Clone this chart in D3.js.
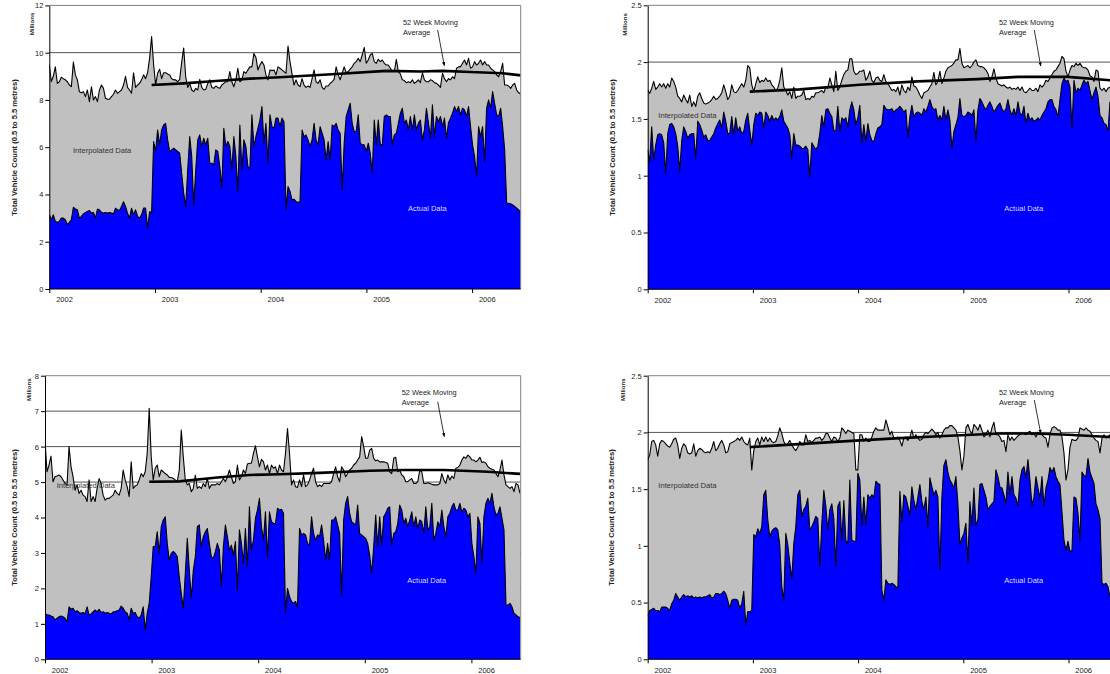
<!DOCTYPE html>
<html>
<head>
<meta charset="utf-8">
<script src="https://cdn.jsdelivr.net/npm/d3@7"></script>
<style>
  body { margin: 0; background: #fff; }
  svg { display: block; font-family: "Liberation Sans", Arial, sans-serif; }
</style>
</head>
<body>
<svg id="chart" width="1110" height="674"></svg>
<script>
// ---- Data (weekly vehicle counts, millions) ----
const years = ["2002", "2003", "2004", "2005", "2006"];

// Site A
const aTotal = [
  9.5, 8.77, 9.0, 9.4, 8.7, 8.77, 8.96, 8.9, 8.85, 8.77,
  8.63, 8.56, 9.6, 9.06, 8.85, 8.35, 8.3, 8.35, 8.14, 8.42,
  7.93, 8.56, 8.0, 8.14, 7.93, 8.42, 8.63, 8.49, 8.07, 8.03,
  8.03, 8.14, 8.24, 8.42, 8.28, 8.35, 8.42, 8.63, 9.0, 8.53,
  8.42, 8.28, 9.15, 8.53, 8.63, 8.7, 8.85, 9.06, 8.9, 9.15,
  9.76, 10.68, 9.5, 8.63, 9.13, 9.3, 8.9, 9.15, 9.15, 9.1,
  9.06, 8.9, 8.85, 8.85, 8.77, 8.87, 9.6, 10.2, 8.98, 8.53,
  8.7, 8.42, 8.35, 8.49, 8.42, 8.87, 8.53, 8.42, 8.45, 8.7,
  8.85, 8.53, 8.49, 8.59, 8.53, 8.49, 8.63, 8.7, 8.77, 8.77,
  9.2, 8.77, 8.56, 8.85, 9.34, 8.77, 8.85, 9.2, 9.13, 9.27,
  9.4, 9.4, 9.97, 9.8, 9.27, 9.48, 9.62, 9.48, 9.06, 8.85,
  9.27, 9.24, 9.27, 9.06, 9.4,
  9.34, 9.27, 9.2, 9.13, 10.28, 9.62, 9.1, 8.63, 8.85, 8.63,
  8.56, 8.9, 8.63, 8.53, 8.59, 8.53, 8.9, 9.27, 8.77, 8.7,
  8.85, 8.53, 8.45, 8.59, 8.59, 8.7, 8.77, 8.87, 9.4, 9.06,
  8.85, 9.13, 9.4, 9.15, 9.2, 9.3, 9.4, 9.55, 9.62, 9.76,
  9.62, 9.9, 10.22, 9.55, 9.69, 9.9, 9.97, 9.62, 9.55, 9.72,
  9.62, 9.69, 9.55, 9.48, 9.48, 9.34, 9.2, 9.2, 9.72, 9.2,
  9.1, 8.85, 8.82, 8.73, 8.77, 8.73, 8.85, 8.7, 8.77, 8.85,
  8.73, 9.15, 8.85, 8.77, 8.77, 8.85, 8.82, 8.73, 8.7, 8.63,
  8.53, 9.13, 8.9, 8.77, 8.9, 8.85, 8.98, 8.9, 9.34, 9.4,
  9.4, 9.55, 9.69, 9.48, 9.76, 9.34, 9.4, 9.62, 9.48, 9.55,
  9.69, 9.48, 9.62, 9.48, 9.48, 9.34, 9.27, 9.2, 9.06, 8.98,
  9.2, 9.55, 8.63, 8.63, 8.59, 8.49, 8.63, 8.7, 8.42, 8.3,
  8.25
];
const aActual = [
  3.14, 2.93, 3.14, 2.86, 2.82, 2.86, 3.0, 3.0, 2.93, 2.72,
  2.82, 2.93, 3.46, 3.38, 3.35, 3.0, 3.07, 3.18, 3.24, 3.28,
  3.32, 3.21, 3.24, 3.0, 3.38, 3.35, 3.24, 3.21, 3.24, 3.21,
  3.24, 3.21, 3.18, 3.42, 3.35, 3.32, 3.49, 3.69, 3.49, 3.21,
  3.0, 3.42, 3.14, 3.35, 3.07, 3.0, 3.14, 3.42, 3.42, 2.58,
  3.28, 3.21, 6.24, 5.82, 6.73, 6.1, 6.73, 6.94, 7.01, 6.31,
  5.82, 5.89, 5.96, 5.89, 5.82, 5.75, 4.9, 4.06, 3.49, 5.04,
  6.45, 5.61, 3.56, 5.04, 6.31, 6.52, 6.03, 6.38, 6.1, 6.38,
  5.32, 5.32, 5.25, 5.89, 5.82, 5.18, 4.27, 6.8, 6.03, 6.24,
  6.03, 5.04, 6.45, 5.61, 4.13, 6.94, 5.04, 6.31, 6.03, 5.18,
  5.11, 7.37, 6.03, 6.45, 6.8, 7.15, 7.72, 6.17, 7.01, 5.32,
  7.37, 6.87, 6.8, 7.23, 7.23,
  6.87, 7.23, 7.08, 3.35, 4.34, 4.13, 3.77, 3.8, 3.7, 3.66,
  3.7, 6.73, 6.45, 6.52, 6.31, 6.03, 6.31, 7.01, 6.31, 6.1,
  6.87, 6.59, 6.31, 5.46, 6.24, 5.46, 6.94, 6.87, 7.01, 6.73,
  6.59, 4.2, 6.17, 7.3, 7.58, 7.86, 7.01, 6.66, 6.66, 7.37,
  6.17, 6.1, 6.1, 5.82, 6.17, 5.75, 4.9, 7.15, 6.1, 7.15,
  6.1, 6.1, 7.3, 7.37, 7.3, 7.3, 6.1, 6.52, 6.59, 7.01,
  7.44, 7.65, 7.01, 7.15, 6.73, 7.3, 6.73, 7.37, 6.73, 7.01,
  7.15, 6.31, 6.73, 7.65, 7.04, 6.38, 7.79, 6.45, 7.3, 7.08,
  7.3, 6.87, 7.23, 6.38, 7.04, 7.23, 7.44, 7.72, 7.51, 7.72,
  7.37, 7.65, 7.58, 7.3, 7.72, 6.87, 6.1, 5.61, 4.76, 6.87,
  6.45, 6.87, 5.39, 7.65, 8.0, 7.65, 8.35, 7.86, 7.37, 7.3,
  7.65, 6.87, 5.89, 3.63, 3.63, 3.61, 3.56, 3.49, 3.42, 3.35,
  3.21
];
const aMaWeek  = [51, 67, 83, 100, 115, 143, 168, 185, 196, 210, 226, 235];
const aMaValue = [8.63, 8.70, 8.80, 8.90, 8.96, 9.10, 9.23, 9.20, 9.23, 9.18, 9.13, 9.04];

// Site B
const bTotal = [
  1.755, 1.725, 1.77, 1.83, 1.76, 1.78, 1.81, 1.78, 1.81, 1.77,
  1.81, 1.78, 1.86, 1.83, 1.78, 1.7, 1.68, 1.65, 1.71, 1.67,
  1.64, 1.71, 1.61, 1.65, 1.61, 1.7, 1.73, 1.68, 1.64, 1.63,
  1.64, 1.65, 1.67, 1.7, 1.67, 1.68, 1.7, 1.73, 1.8, 1.74,
  1.67, 1.7, 1.8, 1.74, 1.73, 1.75, 1.78, 1.81, 1.78, 1.84,
  1.97, 1.95, 1.8, 1.74, 1.81, 1.87, 1.82, 1.84, 1.83, 1.86,
  1.83, 1.84, 1.8, 1.78, 1.75, 1.77, 1.84, 1.95, 1.78, 1.75,
  1.71, 1.74, 1.68, 1.78, 1.68, 1.7, 1.7, 1.71, 1.75, 1.67,
  1.68, 1.67, 1.7, 1.69, 1.73, 1.73, 1.74, 1.75, 1.73, 1.78,
  1.77, 1.86, 1.8, 1.74, 1.92, 1.75, 1.78, 1.84, 1.89, 1.92,
  1.93, 2.03, 2.03, 1.92, 1.89, 1.9, 1.92,
  1.92, 1.93, 1.84, 1.87, 1.92, 1.84, 1.82, 1.86, 1.87, 1.84,
  1.83, 1.89, 1.83, 1.81, 1.78, 1.75, 1.76, 1.74, 1.78, 1.71,
  1.8, 1.75, 1.73, 1.78, 1.75, 1.87, 1.79, 1.78, 1.75, 1.71,
  1.68, 1.73, 1.74, 1.75, 1.78, 1.81, 1.91, 1.8, 1.83, 1.92,
  1.81, 1.86, 1.92, 1.95, 1.96, 1.97, 1.99, 2.02, 2.02, 2.12,
  1.99, 1.95, 1.96, 1.97, 1.95, 1.97, 2.0, 2.02, 1.97, 1.96,
  1.96, 1.95, 1.93, 1.9, 1.83, 1.87, 1.94, 1.86, 1.81, 1.8,
  1.79, 1.8, 1.78, 1.77, 1.78, 1.76, 1.77, 1.76, 1.78, 1.75,
  1.78, 1.74, 1.73, 1.75, 1.77, 1.75, 1.75, 1.77, 1.74, 1.8,
  1.78, 1.8, 1.84, 1.83, 1.86, 1.89, 1.92, 1.93, 1.96, 1.99,
  2.05, 2.03, 1.92, 1.87, 1.93, 1.97, 1.96, 1.99, 1.97, 1.99,
  1.96, 1.95, 1.95, 1.93, 1.88, 1.87, 1.83, 1.93, 1.92, 1.77,
  1.75, 1.77, 1.74, 1.77, 1.78
];
const bActual = [
  1.23, 1.12, 1.43, 1.14, 1.27, 1.36, 1.37, 1.36, 1.29, 1.02,
  1.37, 1.45, 1.46, 1.43, 1.37, 1.26, 1.04, 1.31, 1.43, 1.39,
  1.33, 1.36, 1.37, 1.37, 1.15, 1.48, 1.45, 1.4, 1.34, 1.36,
  1.31, 1.31, 1.34, 1.37, 1.42, 1.46, 1.49, 1.42, 1.56, 1.48,
  1.37, 1.37, 1.52, 1.36, 1.51, 1.39, 1.43, 1.37, 1.39, 1.49,
  1.55, 1.4, 1.27, 1.45, 1.55, 1.53, 1.56, 1.55, 1.42, 1.56,
  1.53, 1.48, 1.53, 1.49, 1.51, 1.49, 1.52, 1.58, 1.48, 1.45,
  1.42, 1.36, 1.15, 1.37, 1.27, 1.27, 1.26, 1.24, 1.24, 1.26,
  1.23, 0.99, 1.29, 1.26, 1.23, 1.26, 1.37, 1.53, 1.43, 1.58,
  1.59, 1.55, 1.52, 1.4, 1.39, 1.61, 1.39, 1.51, 1.49, 1.51,
  1.43, 1.58, 1.65, 1.58, 1.45, 1.51, 1.62,
  1.29, 1.45, 1.3, 1.46, 1.36, 1.31, 1.3, 1.37, 1.42, 1.43,
  1.45, 1.62, 1.59, 1.58, 1.58, 1.59, 1.56, 1.58, 1.59, 1.61,
  1.59, 1.56, 1.58, 1.34, 1.52, 1.62, 1.52, 1.55, 1.56, 1.55,
  1.53, 1.59, 1.56, 1.61, 1.67, 1.61, 1.58, 1.59, 1.49, 1.53,
  1.49, 1.61, 1.49, 1.58, 1.49, 1.24, 1.39, 1.45, 1.51, 1.68,
  1.53, 1.52, 1.53, 1.56, 1.55, 1.53, 1.58, 1.31, 1.58, 1.68,
  1.65, 1.61, 1.58, 1.62, 1.65, 1.61, 1.56, 1.59, 1.62, 1.64,
  1.59, 1.56, 1.59, 1.67, 1.58, 1.53, 1.59, 1.53, 1.65, 1.55,
  1.53, 1.61, 1.46, 1.55, 1.49, 1.51, 1.48, 1.49, 1.51, 1.49,
  1.53, 1.56, 1.59, 1.65, 1.67, 1.67, 1.61, 1.58, 1.52, 1.67,
  1.81, 1.86, 1.83, 1.84, 1.78, 1.42, 1.84, 1.73, 1.77, 1.75,
  1.8, 1.84, 1.81, 1.83, 1.75, 1.67, 1.73, 1.78, 1.7, 1.53,
  1.51, 1.46, 1.45, 1.39, 1.65
];
const bMaWeek  = [51, 76, 106, 135, 165, 185, 210, 231];
const bMaValue = [1.74, 1.76, 1.80, 1.83, 1.85, 1.87, 1.87, 1.84];

// Site C
const cTotal = [
  6.18, 5.29, 5.48, 5.73, 5.01, 5.15, 5.17, 5.2, 5.15, 5.06,
  4.96, 4.92, 6.0, 5.43, 5.15, 4.77, 4.92, 4.68, 4.77, 4.63,
  4.59, 4.45, 5.06, 4.45, 4.59, 4.45, 4.82, 5.1, 4.96, 4.63,
  4.49, 4.54, 4.54, 4.59, 4.63, 4.77, 4.68, 4.63, 4.82, 5.34,
  5.06, 4.87, 4.59, 5.57, 4.82, 4.89, 4.92, 5.06, 5.24, 5.15,
  5.29, 5.81, 7.08, 5.71, 5.06, 5.39, 5.48, 5.15, 5.34, 5.29,
  5.24, 5.2, 5.13, 5.13, 5.1, 5.06, 5.01, 5.34, 6.47, 5.71,
  5.06, 4.92, 4.96, 4.73, 4.82, 5.2, 4.82, 4.87, 4.82, 4.96,
  4.87, 5.1, 4.82, 4.92, 4.92, 4.92, 4.96, 4.92, 5.01, 5.1,
  5.01, 5.15, 5.34, 5.15, 4.96, 5.01, 5.48, 5.06, 5.15, 5.34,
  5.24, 5.51, 5.53, 5.53, 5.81, 6.02, 5.71, 5.43, 5.64, 5.57,
  5.34, 5.48, 5.24, 5.48, 5.39, 5.43, 5.24, 5.48,
  5.34, 5.29, 5.81, 6.51, 5.81, 4.92, 5.06, 4.87, 4.85, 5.06,
  4.87, 5.2, 4.87, 4.92, 5.06, 5.24, 5.39, 5.01, 4.87, 4.92,
  4.87, 4.96, 4.96, 4.96, 4.96, 5.01, 5.24, 5.43, 5.15, 5.01,
  5.43, 5.34, 5.15, 5.24, 5.34, 5.39, 5.48, 5.53, 5.62, 5.71,
  6.28, 6.0, 5.67, 5.67, 5.9, 5.95, 5.67, 5.6, 5.62, 5.57,
  5.57, 5.57, 5.55, 5.53, 5.29, 5.24, 5.67, 5.7, 5.29, 5.34,
  5.2, 5.15, 5.01, 5.01, 5.06, 5.1, 4.96, 4.96, 5.01, 5.34,
  5.29, 4.96, 4.96, 4.98, 4.96, 4.94, 4.92, 4.92, 4.92, 4.96,
  5.24, 5.06, 4.96, 5.2, 5.06, 5.17, 5.1, 5.39, 5.41, 5.48,
  5.62, 5.71, 5.67, 5.76, 5.71, 5.62, 5.62, 5.57, 5.62, 5.7,
  5.55, 5.57, 5.53, 5.43, 5.39, 5.36, 5.34, 5.24, 5.15, 5.34,
  5.62, 5.2, 4.92, 4.87, 4.82, 4.87, 4.73, 4.96, 4.92, 4.68
];
const cActual = [
  1.3, 1.25, 1.25, 1.22, 1.2, 1.11, 1.16, 1.2, 1.22, 1.2,
  1.16, 1.06, 1.48, 1.41, 1.44, 1.34, 1.37, 1.32, 1.3, 1.32,
  1.28, 1.48, 1.25, 1.28, 1.34, 1.39, 1.34, 1.41, 1.32, 1.34,
  1.3, 1.32, 1.3, 1.28, 1.34, 1.34, 1.37, 1.39, 1.5, 1.44,
  1.34, 1.3, 1.11, 1.44, 1.3, 1.32, 1.2, 1.16, 1.25, 1.48,
  0.83, 1.3, 1.58, 2.33, 3.18, 3.18, 3.6, 2.99, 3.74, 3.93,
  4.02, 3.27, 2.8, 2.99, 3.04, 2.99, 2.89, 2.33, 1.86, 1.44,
  2.42, 3.41, 2.52, 1.72, 2.52, 2.89, 3.74, 3.79, 3.18, 3.46,
  3.6, 3.69, 3.27, 2.89, 2.85, 3.04, 3.27, 3.08, 2.05, 3.18,
  3.79, 3.46, 3.08, 3.22, 2.94, 3.32, 1.95, 3.65, 3.27, 2.71,
  3.69, 2.61, 4.3, 3.08, 3.36, 3.98, 4.21, 4.54, 3.74, 3.36,
  4.16, 2.85, 4.16, 3.88, 3.83, 3.83, 4.26, 4.21,
  4.23, 4.12, 1.3, 2.0, 1.77, 1.63, 1.58, 1.63, 1.48, 3.69,
  3.51, 3.55, 3.51, 3.27, 3.22, 4.02, 3.55, 3.36, 3.51, 3.46,
  3.79, 3.36, 2.8, 3.27, 2.8, 3.93, 3.93, 4.02, 3.79, 3.55,
  1.81, 3.93, 4.4, 4.59, 4.12, 3.88, 3.83, 3.79, 4.35, 3.55,
  3.51, 3.46, 3.41, 3.27, 2.94, 2.42, 3.18, 4.07, 3.18, 4.02,
  3.22, 4.02, 4.12, 4.26, 4.3, 3.22, 3.55, 3.6, 3.83, 4.35,
  4.21, 3.83, 3.98, 3.74, 3.93, 4.16, 3.74, 4.02, 3.69, 3.93,
  3.88, 3.55, 4.3, 3.65, 3.74, 4.4, 3.36, 3.55, 3.88, 3.74,
  4.21, 3.74, 3.46, 4.02, 4.12, 4.3, 4.4, 4.21, 4.21, 4.4,
  4.16, 4.26, 4.21, 4.02, 4.12, 3.27, 2.89, 2.42, 4.02, 3.83,
  2.71, 4.02, 4.4, 4.54, 4.4, 4.68, 4.3, 4.07, 4.12, 4.3,
  3.98, 3.65, 1.53, 1.53, 1.58, 1.48, 1.3, 1.25, 1.2, 1.18
];
const cMaWeek  = [52, 67, 86, 102, 117, 137, 162, 179, 199, 221, 237];
const cMaValue = [5.01, 5.02, 5.13, 5.20, 5.22, 5.26, 5.32, 5.34, 5.34, 5.29, 5.23];

// Site D
const dTotal = [
  1.76, 1.8, 1.92, 1.93, 1.89, 1.79, 1.9, 1.93, 1.92, 1.9,
  1.88, 1.87, 1.9, 1.94, 1.95, 1.89, 1.77, 1.86, 1.9, 1.88,
  1.82, 1.81, 1.82, 1.9, 1.79, 1.84, 1.86, 1.85, 1.83, 1.82,
  1.83, 1.82, 1.86, 1.92, 1.84, 1.86, 1.9, 1.93, 1.89, 1.82,
  1.83, 1.9, 1.91, 1.92, 1.93, 1.95, 1.93, 1.96, 1.92, 1.9,
  1.89, 1.95, 1.67, 1.84, 1.92, 1.95, 1.89, 1.96, 1.92, 1.96,
  1.92, 1.95, 1.92, 1.91, 1.92, 1.97, 2.04, 1.99, 1.92, 1.89,
  1.9, 1.93, 1.89, 1.86, 1.84, 1.87, 1.92, 1.89, 1.89, 1.98,
  1.92, 1.93, 1.91, 1.93, 1.95, 1.95, 1.96, 1.93, 1.95, 1.99,
  1.99, 1.95, 1.92, 1.96, 1.95, 1.92, 1.95, 2.04, 2.02, 1.99,
  2.02, 2.01, 2.0, 1.99, 1.67, 1.67, 1.98,
  1.98, 1.92, 1.95, 1.92, 1.92, 1.96, 2.01, 2.04, 2.02, 2.02,
  2.02, 2.02, 2.11, 2.05, 1.98, 2.01, 1.95, 1.95, 1.96, 1.93,
  1.88, 1.95, 1.96, 1.93, 1.96, 2.02, 1.95, 1.98, 1.95, 1.93,
  1.94, 1.98, 2.0, 1.99, 2.01, 2.03, 2.01, 1.98, 2.0, 1.95,
  1.98, 2.02, 2.04, 2.04, 2.06, 2.06, 2.04, 2.02, 1.96, 1.84,
  1.67, 1.79, 2.04, 2.07, 2.02, 1.98, 2.07, 2.05, 2.02, 2.07,
  2.02, 1.96, 1.98, 2.02, 1.96, 2.04, 2.09, 1.98, 1.98, 1.96,
  1.92, 1.93, 1.83, 1.98, 1.93, 1.96, 1.93, 1.95, 1.97, 1.98,
  1.99, 1.99, 1.98, 2.0, 2.01, 1.98, 1.99, 1.96, 2.0, 1.99,
  1.98, 1.96, 1.95, 1.87, 1.98, 2.04, 2.05, 2.04, 2.02, 2.02,
  1.96, 1.82, 1.58, 1.67, 1.87, 1.94, 1.93, 1.93, 1.95, 2.04,
  2.03, 2.02, 2.04, 2.02, 2.01, 1.98, 1.95, 1.93, 1.92, 1.82,
  1.95, 1.98, 1.95, 1.96, 1.98
];
const dActual = [
  0.38, 0.43, 0.44, 0.45, 0.43, 0.43, 0.42, 0.46, 0.46, 0.46,
  0.45, 0.43, 0.49, 0.52, 0.58, 0.55, 0.52, 0.55, 0.57, 0.55,
  0.56, 0.55, 0.56, 0.54, 0.55, 0.54, 0.55, 0.54, 0.55, 0.55,
  0.56, 0.57, 0.54, 0.55, 0.58, 0.58, 0.57, 0.58, 0.6, 0.58,
  0.52, 0.45, 0.52, 0.53, 0.53, 0.52, 0.45, 0.49, 0.6, 0.3,
  0.42, 0.42, 0.43, 1.1, 1.08, 1.15, 1.11, 1.17, 1.45, 1.49,
  1.23, 1.08, 1.13, 1.15, 1.16, 1.14, 1.01, 0.64, 0.52, 1.11,
  1.01, 0.85, 0.71, 1.02, 1.17, 1.45, 1.49, 1.26, 1.32, 1.35,
  1.42, 1.14, 1.17, 1.21, 1.26, 1.24, 0.82, 1.2, 1.49, 1.35,
  1.14, 1.32, 1.37, 1.24, 0.82, 1.35, 1.39, 1.05, 1.4, 1.05,
  1.02, 1.58, 1.05, 1.04, 1.04, 1.64, 1.58,
  1.18, 1.43, 1.18, 1.45, 1.42, 1.45, 1.43, 1.57, 1.55, 1.54,
  0.61, 0.52, 0.7, 0.67, 0.66, 0.67, 0.66, 0.64, 0.63, 1.48,
  1.21, 1.45, 1.43, 1.35, 1.27, 1.52, 1.4, 1.32, 1.43, 1.54,
  1.39, 1.32, 1.43, 1.17, 1.6, 1.52, 1.45, 1.49, 1.43, 0.79,
  1.43, 1.71, 1.76, 1.65, 1.58, 1.55, 1.51, 1.61, 1.37, 1.01,
  1.07, 1.11, 1.2, 0.85, 1.39, 1.18, 1.51, 1.18, 1.23, 1.54,
  1.55, 1.49, 1.43, 1.32, 1.35, 1.37, 1.39, 1.67, 1.61, 1.52,
  1.51, 1.45, 1.37, 1.65, 1.45, 1.61, 1.45, 1.42, 1.35, 1.58,
  1.67, 1.7, 1.6, 1.76, 1.58, 1.36, 1.43, 1.61, 1.51, 1.42,
  1.61, 1.35, 1.51, 1.58, 1.69, 1.65, 1.69, 1.61, 1.57, 1.54,
  1.3, 1.05, 0.96, 1.04, 0.95, 0.96, 1.43, 1.42, 1.29, 1.04,
  1.65, 1.62, 1.61, 1.77, 1.65, 1.6, 1.55, 1.37, 1.32, 1.24,
  0.67, 0.66, 0.67, 0.64, 0.55
];
const dMaWeek  = [51, 106, 126, 151, 176, 193, 210, 231];
const dMaValue = [1.87, 1.93, 1.95, 1.97, 1.99, 1.99, 1.98, 1.96];

// ---- Layout of the four panels ----
const panels = [
  { total: aTotal, actual: aActual, maWeek: aMaWeek, maValue: aMaValue,
    yMax: 12, yStep: 2, x0: 49.3, xLast: 520.7, right: 520.7, yTop: 5.4, yBottom: 289, yearW: 105.7,
    millions: [32, 24], title: [15, 147.5], interp: [73, 150.7], actualLbl: [408, 209.3],
    maLbl: [403, 22.7], arrow: [437.7, 30, 444.3, 65.7] },
  { total: bTotal, actual: bActual, maWeek: bMaWeek, maValue: bMaValue,
    yMax: 2.5, yStep: 0.5, x0: 647.7, xLast: 1110, right: 1119, yTop: 5.3, yBottom: 289.3, yearW: 105.2,
    millions: [625, 24.5], title: [612.7, 147.5], interp: [658.3, 115.7], actualLbl: [1004.3, 209.3],
    maLbl: [999, 22.7], arrow: [1034.3, 30, 1040.7, 66] },
  { total: cTotal, actual: cActual, maWeek: cMaWeek, maValue: cMaValue,
    yMax: 8, yStep: 1, x0: 45, xLast: 520, right: 520.7, yTop: 375.7, yBottom: 659.3, yearW: 106.6,
    millions: [29.3, 389.7], title: [15, 517.5], interp: [56.7, 485.7], actualLbl: [407.3, 580.7],
    maLbl: [401.7, 393.3], arrow: [437.7, 401.7, 444.3, 436.7] },
  { total: dTotal, actual: dActual, maWeek: dMaWeek, maValue: dMaValue,
    yMax: 2.5, yStep: 0.5, x0: 647.7, xLast: 1110, right: 1119, yTop: 375.7, yBottom: 659.3, yearW: 105.2,
    millions: [623.3, 389.7], title: [611.7, 517.5], interp: [658.3, 485.7], actualLbl: [1004.3, 580.7],
    maLbl: [999, 393.3], arrow: [1034.3, 400, 1040.7, 433.3] }
];

const svg = d3.select("#chart");
const defs = svg.append("defs");
defs.append("marker")
  .attr("id", "arrowhead")
  .attr("viewBox", "0 0 10 10")
  .attr("refX", 9).attr("refY", 5)
  .attr("markerWidth", 5).attr("markerHeight", 5)
  .attr("orient", "auto")
  .append("path").attr("d", "M0,1 L10,5 L0,9 z").attr("fill", "#000");

const fmt = d3.format("~g");
const FONT = "Liberation Sans, Arial, sans-serif";

panels.forEach((p, k) => {
  const g = svg.append("g");
  const x = d3.scaleLinear().domain([0, p.total.length - 1]).range([p.x0, p.xLast]);
  const y = d3.scaleLinear().domain([0, p.yMax]).range([p.yBottom, p.yTop]);
  const yr = d3.scaleLinear().domain([2002, 2003]).range([p.x0, p.x0 + p.yearW]);
  const yTicks = d3.range(0, p.yMax + p.yStep / 2, p.yStep);

  defs.append("clipPath").attr("id", "clip" + k)
    .append("rect")
    .attr("x", p.x0).attr("y", p.yTop)
    .attr("width", p.right - p.x0).attr("height", p.yBottom - p.yTop);

  // horizontal gridlines
  g.selectAll("line.grid")
    .data(yTicks.filter(t => t > 0 && t < p.yMax))
    .join("line")
    .attr("x1", p.x0).attr("x2", p.right)
    .attr("y1", d => y(d)).attr("y2", d => y(d))
    .attr("stroke", "#555").attr("stroke-width", 1);

  const plot = g.append("g").attr("clip-path", `url(#clip${k})`);

  // interpolated total (grey) and actual counts (blue)
  const area = d3.area().x((d, i) => x(i)).y0(y(0)).y1(d => y(d));
  const line = d3.line().x((d, i) => x(i)).y(d => y(d));

  plot.append("path").datum(p.total).attr("d", area).attr("fill", "#c0c0c0");
  plot.append("path").datum(p.total).attr("d", line)
    .attr("fill", "none").attr("stroke", "#000").attr("stroke-width", 1.1).attr("stroke-linejoin", "round");
  plot.append("path").datum(p.actual).attr("d", area).attr("fill", "#0000ff");
  plot.append("path").datum(p.actual).attr("d", line)
    .attr("fill", "none").attr("stroke", "#000").attr("stroke-width", 1.1).attr("stroke-linejoin", "round");

  // 52 week moving average
  const ma = p.maWeek.map((w, i) => [w, p.maValue[i]]);
  plot.append("path").datum(ma)
    .attr("d", d3.line().x(d => x(d[0])).y(d => y(d[1])))
    .attr("fill", "none").attr("stroke", "#000").attr("stroke-width", 2.6).attr("stroke-linejoin", "round");

  // plot frame
  g.append("line").attr("x1", p.x0).attr("x2", p.right).attr("y1", p.yTop).attr("y2", p.yTop)
    .attr("stroke", "#808080");
  g.append("line").attr("x1", p.right).attr("x2", p.right).attr("y1", p.yTop).attr("y2", p.yBottom)
    .attr("stroke", "#808080");

  // y axis
  const ya = g.append("g").attr("transform", `translate(${p.x0},0)`)
    .call(d3.axisLeft(y).tickValues(yTicks).tickFormat(fmt).tickSize(4).tickSizeOuter(0).tickPadding(2));
  ya.select(".domain").attr("stroke", "#000");
  ya.selectAll("text").attr("font-family", FONT).attr("font-size", 7.5).attr("fill", "#222");

  // x axis
  const xa = g.append("g").attr("transform", `translate(0,${p.yBottom})`)
    .call(d3.axisBottom(yr).tickValues(years.map(Number)).tickFormat(d3.format("d")).tickSize(4).tickSizeOuter(0).tickPadding(4));
  xa.select(".domain").remove();
  xa.selectAll("text").attr("x", 14.7).attr("font-family", FONT).attr("font-size", 7.5).attr("fill", "#222");
  g.append("line").attr("x1", p.x0).attr("x2", p.right).attr("y1", p.yBottom).attr("y2", p.yBottom)
    .attr("stroke", "#000");

  // axis titles
  g.append("text").text("Millions")
    .attr("transform", `translate(${p.millions[0]},${p.millions[1]}) rotate(-90)`)
    .attr("text-anchor", "middle").attr("dominant-baseline", "middle")
    .attr("font-size", 6.1).attr("font-weight", "bold").attr("fill", "#222");
  g.append("text").text("Total Vehicle Count (0.5 to 5.5 metres)")
    .attr("transform", `translate(${p.title[0]},${p.title[1]}) rotate(-90)`)
    .attr("text-anchor", "middle").attr("dominant-baseline", "middle")
    .attr("font-size", 7.6).attr("font-weight", "bold").attr("fill", "#222");

  // series labels
  g.append("text").text("Interpolated Data")
    .attr("x", p.interp[0]).attr("y", p.interp[1]).attr("dominant-baseline", "middle")
    .attr("font-size", 7.6).attr("fill", "#333");
  g.append("text").text("Actual Data")
    .attr("x", p.actualLbl[0]).attr("y", p.actualLbl[1]).attr("dominant-baseline", "middle")
    .attr("font-size", 7.5).attr("fill", "#d8d8ff");
  const mt = g.append("text").attr("font-size", 7.4).attr("fill", "#222");
  mt.append("tspan").text("52 Week Moving").attr("x", p.maLbl[0]).attr("y", p.maLbl[1]).attr("dominant-baseline", "middle");
  mt.append("tspan").text("Average").attr("x", p.maLbl[0]).attr("y", p.maLbl[1] + 10).attr("dominant-baseline", "middle");
  g.append("line")
    .attr("x1", p.arrow[0]).attr("y1", p.arrow[1]).attr("x2", p.arrow[2]).attr("y2", p.arrow[3])
    .attr("stroke", "#000").attr("stroke-width", 0.8).attr("marker-end", "url(#arrowhead)");
});
</script>
</body>
</html>
